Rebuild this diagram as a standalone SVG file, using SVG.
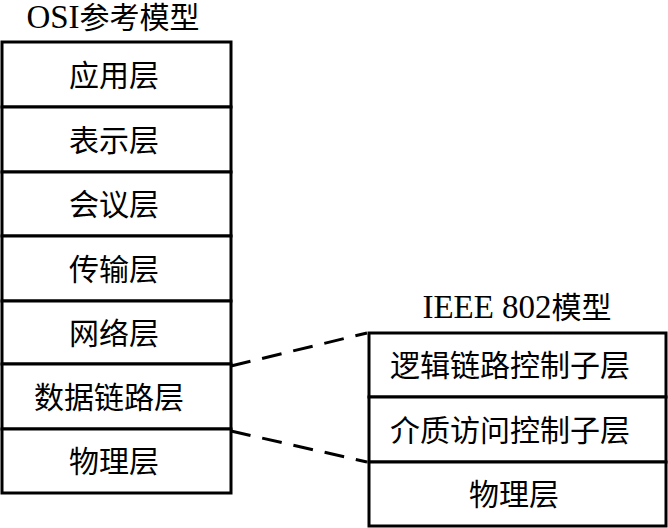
<svg xmlns="http://www.w3.org/2000/svg" width="668" height="528" viewBox="0 0 668 528">
<style>
.box{fill:#fff;stroke:#000;stroke-width:3}
.t{font-family:"Liberation Serif","Noto Sans CJK SC",serif;font-size:30px;fill:#000;text-anchor:middle}
.lat{font-size:33px}
.dash{fill:none;stroke:#000;stroke-width:3;stroke-dasharray:20 12}
</style>
<rect width="668" height="528" fill="#fff"/>
<text class="t" x="113" y="28"><tspan class="lat">OSI</tspan>参考模型</text>
<text class="t" x="517" y="318"><tspan class="lat">IEEE 802</tspan>模型</text>
<g id="osi-application"><rect class="box" x="2" y="42" width="229" height="65"/><text class="t" x="114" y="86">应用层</text></g>
<g id="osi-presentation"><rect class="box" x="2" y="107" width="229" height="65"/><text class="t" x="114" y="151">表示层</text></g>
<g id="osi-session"><rect class="box" x="2" y="172" width="229" height="64"/><text class="t" x="114" y="215">会议层</text></g>
<g id="osi-transport"><rect class="box" x="2" y="236" width="229" height="65"/><text class="t" x="114" y="280">传输层</text></g>
<g id="osi-network"><rect class="box" x="2" y="301" width="229" height="63"/><text class="t" x="114" y="344">网络层</text></g>
<g id="osi-datalink"><rect class="box" x="2" y="364" width="229" height="65"/><text class="t" x="109" y="408">数据链路层</text></g>
<g id="osi-physical"><rect class="box" x="2" y="429" width="229" height="64"/><text class="t" x="114" y="472">物理层</text></g>
<g id="ieee-llc"><rect class="box" x="369" y="333" width="297" height="64"/><text class="t" x="510" y="376">逻辑链路控制子层</text></g>
<g id="ieee-mac"><rect class="box" x="369" y="397" width="297" height="65"/><text class="t" x="510" y="441">介质访问控制子层</text></g>
<g id="ieee-physical"><rect class="box" x="369" y="462" width="297" height="64"/><text class="t" x="514" y="505">物理层</text></g>
<g id="connectors">
<line class="dash" x1="231" y1="366" x2="367" y2="333"/>
<line class="dash" x1="231" y1="431" x2="367" y2="462"/>
</g>
</svg>
